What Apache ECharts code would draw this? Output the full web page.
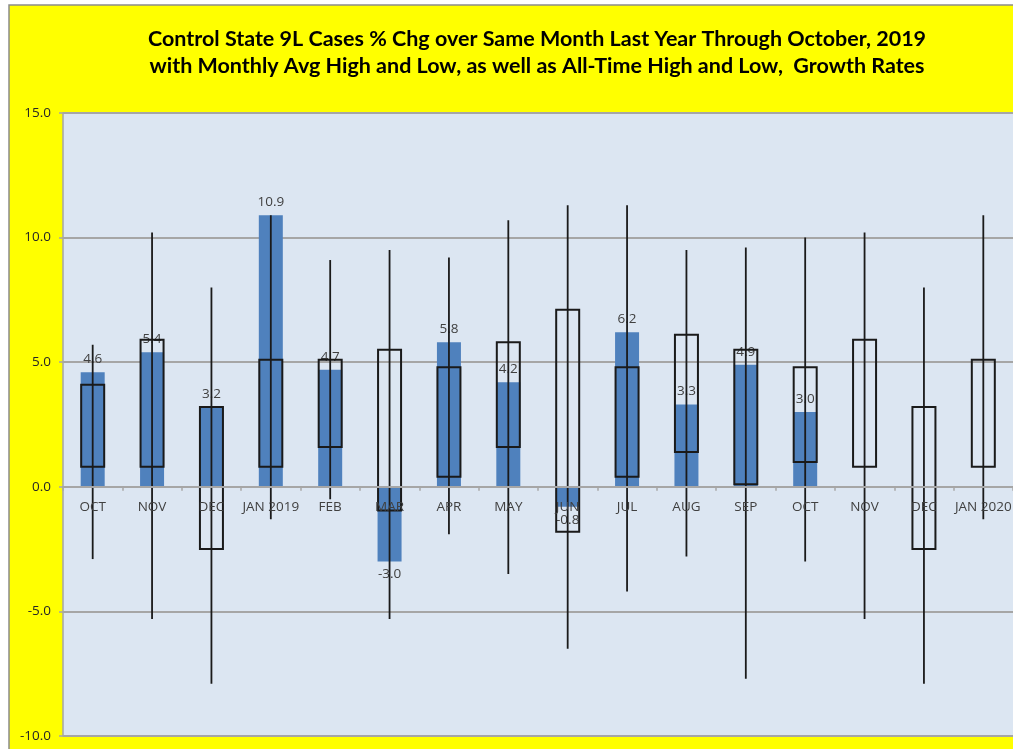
<!DOCTYPE html>
<html>
<head>
<meta charset="utf-8">
<script src="https://cdn.jsdelivr.net/npm/echarts@6/dist/echarts.min.js"></script>
<style>
html,body{margin:0;padding:0;background:#ffffff;}
#chart{width:1013px;height:749px;}
</style>
</head>
<body>
<div id="chart"></div>
<script>
const categories = ['OCT','NOV','DEC','JAN 2019','FEB','MAR','APR','MAY','JUN','JUL','AUG','SEP','OCT','NOV','DEC','JAN 2020'];
const currentChg = [4.6,5.4,3.2,10.9,4.7,-3.0,5.8,4.2,-0.8,6.2,3.3,4.9,3.0,null,null,null];
const avgHigh = [4.1,5.9,3.2,5.1,5.1,5.5,4.8,5.8,7.1,4.8,6.1,5.5,4.8,5.9,3.2,5.1];
const avgLow  = [0.8,0.8,-2.5,0.8,1.6,-0.95,0.4,1.6,-1.8,0.4,1.4,0.1,1.0,0.8,-2.5,0.8];
const allHigh = [5.7,10.2,8.0,10.9,9.1,9.5,9.2,10.7,11.3,11.3,9.5,9.6,10.0,10.2,8.0,10.9];
const allLow  = [-2.9,-5.3,-7.9,-1.3,-0.5,-5.3,-1.9,-3.5,-6.5,-4.2,-2.8,-7.7,-3.0,-5.3,-7.9,-1.3];
const yTicks = [-10,-5,0,5,10,15];
const titleLines = ['Control State 9L Cases % Chg over Same Month Last Year Through October, 2019',
  'with Monthly Avg High and Low, as well as All-Time High and Low,  Growth Rates'];

const boxData = categories.map((c, i) => [i, avgHigh[i], avgLow[i], allHigh[i], allLow[i]]);

const chart = echarts.init(document.getElementById('chart'), null, {renderer: 'canvas'});

function renderBox(params, api) {
  const x = api.value(0);
  const hi = api.coord([x, api.value(1)]);
  const lo = api.coord([x, api.value(2)]);
  const ah = api.coord([x, api.value(3)]);
  const al = api.coord([x, api.value(4)]);
  const w = 23;
  return {
    type: 'group',
    children: [
      {type: 'rect', shape: {x: hi[0] - w / 2, y: hi[1], width: w, height: lo[1] - hi[1]},
       style: {fill: 'none', stroke: '#1a1a1a', lineWidth: 2}},
      {type: 'line', shape: {x1: ah[0], y1: ah[1], x2: al[0], y2: al[1]},
       style: {stroke: '#1a1a1a', lineWidth: 1.8}}
    ]
  };
}

const gridTop = 113, gridBottom = 13, chartH = 749;
const plotH = chartH - gridTop - gridBottom;
// distance from the bottom edge of the plot to the zero line
const zeroOffset = plotH * (0 - (-10)) / (15 - (-10));

chart.setOption({
  backgroundColor: '#ffffff',
  animation: false,
  graphic: [
    {type: 'rect', z: -10, shape: {x: 9, y: 5, width: 1100, height: 800},
     style: {fill: '#FFFF00', stroke: '#8c8c8c', lineWidth: 1.5}}
  ],
  title: {
    text: titleLines.join('\n'),
    left: 532,
    textAlign: 'center',
    top: 21,
    textStyle: {fontFamily: 'Lato', fontWeight: 'bold', fontSize: 21.5, color: '#000000', lineHeight: 27}
  },
  grid: {left: 63, right: 0, top: gridTop, bottom: gridBottom, show: true, backgroundColor: '#DCE6F2',
    borderWidth: 0, outerBoundsMode: 'none', containLabel: false},
  xAxis: {
    type: 'category',
    data: categories,
    offset: -zeroOffset,
    z: 10,
    axisLine: {onZero: false, lineStyle: {color: '#A6A6A6', width: 2}},
    axisTick: {show: true, length: 4, lineStyle: {color: '#A6A6A6', width: 1.5}},
    axisLabel: {color: '#404040', fontSize: 13.5, fontFamily: 'Open Sans', margin: 13, interval: 0},
    splitLine: {show: false}
  },
  yAxis: {
    type: 'value',
    min: -10, max: 15, interval: 5,
    axisLine: {show: true, lineStyle: {color: '#A6A6A6', width: 1.5}},
    axisTick: {show: true, length: 4, lineStyle: {color: '#A6A6A6', width: 1.5}},
    axisLabel: {color: '#262626', fontSize: 13.5, fontFamily: 'Open Sans', margin: 12,
      formatter: v => yTicks.includes(v) ? v.toFixed(1) : ''},
    splitLine: {show: true, lineStyle: {color: '#A6A6A6', width: 2}}
  },
  series: [
    {
      type: 'bar',
      data: currentChg.map(v => v === null ? null : {value: v,
        label: {position: v < 0 ? 'bottom' : 'top'}}),
      barWidth: 24,
      itemStyle: {color: '#4F81BD'},
      z: 2,
      label: {show: true, distance: 6, color: '#404040', fontSize: 13.5, fontFamily: 'Open Sans',
        formatter: p => p.value == null ? '' : Number(p.value).toFixed(1)}
    },
    {
      type: 'custom',
      renderItem: renderBox,
      data: boxData,
      encode: {x: 0, y: [1, 2, 3, 4]},
      z: 5
    }
  ]
});
</script>
</body>
</html>
